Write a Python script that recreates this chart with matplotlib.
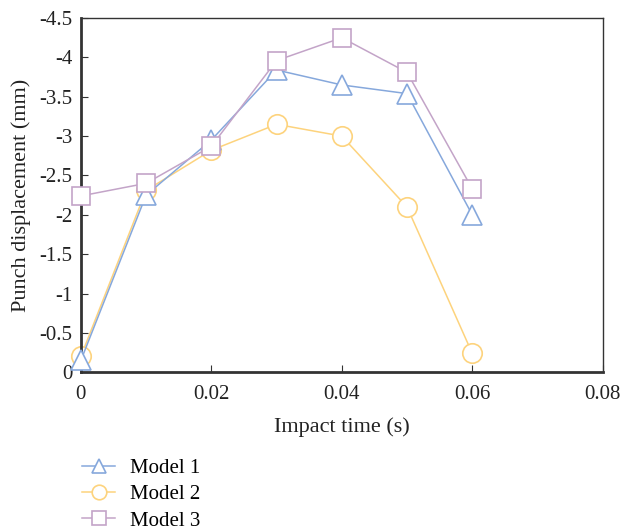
import matplotlib.pyplot as plt

plt.rcParams['font.family'] = ['Liberation Serif', 'DejaVu Serif']

time = [0, 0.01, 0.02, 0.03, 0.04, 0.05, 0.06]
model1 = [-0.15, -2.25, -2.95, -3.84, -3.65, -3.54, -2.0]
model2 = [-0.2, -2.31, -2.82, -3.15, -3.0, -2.1, -0.24]
model3 = [-2.24, -2.4, -2.87, -3.96, -4.25, -3.81, -2.33]

fig = plt.figure(figsize=(6.22, 5.31), dpi=100)
ax = fig.add_axes([0.130, 0.299, 0.839, 0.667])

ax.plot(time, model1, color='#86a8dc', marker='^', markersize=14, markerfacecolor='white',
        markeredgewidth=1.2, linewidth=1.1, label='Model 1', zorder=3, clip_on=False)
ax.plot(time, model2, color='#fdd37d', marker='o', markersize=14, markerfacecolor='white',
        markeredgewidth=1.2, linewidth=1.1, label='Model 2', zorder=2, clip_on=False)
ax.plot(time, model3, color='#c3a4c8', marker='s', markersize=13, markerfacecolor='white',
        markeredgewidth=1.2, linewidth=1.1, label='Model 3', zorder=4, clip_on=False)

ax.set_xlim(0, 0.08)
ax.set_ylim(0, -4.5)
ax.set_xticks([0, 0.02, 0.04, 0.06, 0.08])
ax.set_xticklabels(['0', '0.02', '0.04', '0.06', '0.08'])
ax.set_yticks([0, -0.5, -1, -1.5, -2, -2.5, -3, -3.5, -4, -4.5])
ax.set_yticklabels(['0', '-0.5', '-1', '-1.5', '-2', '-2.5', '-3', '-3.5', '-4', '-4.5'])
ax.tick_params(direction='in', labelsize=15, length=5, color='#333333', labelcolor='#222222')
ax.tick_params(axis='x', pad=9)
ax.tick_params(axis='y', pad=6)
ax.spines['left'].set_linewidth(2)
ax.spines['bottom'].set_linewidth(2)
ax.spines['top'].set_linewidth(1)
ax.spines['right'].set_linewidth(1)
for s in ax.spines.values():
    s.set_color('#333333')

ax.set_xlabel('Impact time (s)', fontsize=16, labelpad=10, color='#222222')
ax.set_ylabel('Punch displacement (mm)', fontsize=16, labelpad=6, color='#222222')

ax.legend(loc='upper left', bbox_to_anchor=(0.115, 0.156), bbox_transform=fig.transFigure,
          frameon=False, fontsize=15, handlelength=1.6, handletextpad=0.7,
          labelspacing=0.32, markerscale=0.75, borderpad=0)

fig.savefig('out.png', dpi=100)
